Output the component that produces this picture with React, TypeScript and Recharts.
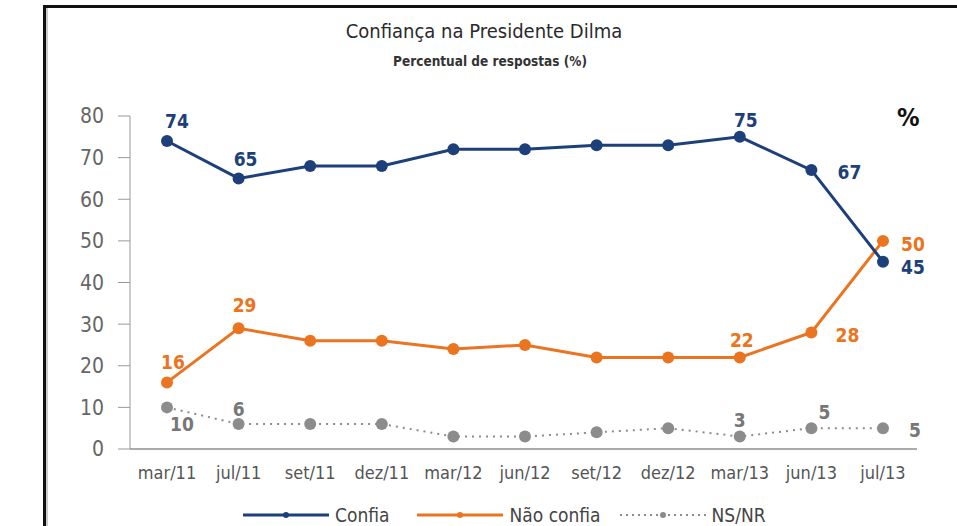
import { LineChart, Line, XAxis, YAxis } from 'recharts'

const months = ['mar/11', 'jul/11', 'set/11', 'dez/11', 'mar/12', 'jun/12', 'set/12', 'dez/12', 'mar/13', 'jun/13', 'jul/13']
const confia = [74, 65, 68, 68, 72, 72, 73, 73, 75, 67, 45]
const naoConfia = [16, 29, 26, 26, 24, 25, 22, 22, 22, 28, 50]
const nsnr = [10, 6, 6, 6, 3, 3, 4, 5, 3, 5, 5]
const yTicks = [0, 10, 20, 30, 40, 50, 60, 70, 80]

const BLUE = '#1d3f7a'
const ORANGE = '#ea7420'
const GRAY = '#8c8c8c'
const FONT = "'DejaVu Sans Condensed', 'DejaVu Sans', Arial, sans-serif"

// which points get a value label, and where (offset from the dot)
const confiaLabels: Record<number, [number, number]> = { 0: [10, -20], 1: [7, -19], 8: [6, -17], 9: [38, 2], 10: [30, 5] }
const naoLabels: Record<number, [number, number]> = { 0: [6, -20], 1: [6, -23], 8: [2, -17], 9: [36, 3], 10: [30, 3] }
const nsLabels: Record<number, [number, number]> = { 0: [15, 17], 1: [0, -15], 8: [0, -17], 9: [13, -16], 10: [32, 2] }

const data = months.map((m, i) => ({ month: m, confia: confia[i], nao: naoConfia[i], ns: nsnr[i] }))

function makeLabel(pos: Record<number, [number, number]>, color: string) {
  return (props: any) => {
    const { x, y, value, index } = props
    const p = pos[index]
    if (!p) return null
    return (
      <text key={index} x={x + p[0]} y={y + p[1]} fill={color} fontSize={19} fontWeight={700}
        fontFamily={FONT} textAnchor="middle" dominantBaseline="central">
        {value}
      </text>
    )
  }
}

function LegendIcon({ color, dashed }: { color: string; dashed?: boolean }) {
  return (
    <svg width={86} height={10} style={{ marginRight: 6 }}>
      <line x1={0} y1={5} x2={86} y2={5} stroke={color} strokeWidth={dashed ? 2 : 3} strokeDasharray={dashed ? '2 4' : undefined} />
      <circle cx={43} cy={5} r={3} fill={color} />
    </svg>
  )
}

export default function App() {
  return (
    <div style={{ position: 'absolute', left: 0, top: 0, width: 957, height: 526, overflow: 'hidden', background: '#fff', fontFamily: FONT }}>
      <div style={{ position: 'absolute', left: 43, top: 5, width: 1000, height: 600, border: '3px solid #111' }} />
      <div style={{ position: 'absolute', left: 46, top: 8, width: 2, height: 600, background: '#ccc' }} />
      <div style={{ position: 'absolute', left: 0, width: 968, top: 19, textAlign: 'center', fontSize: 20, color: '#2a2a2a' }}>
        Confiança na Presidente Dilma
      </div>
      <div style={{ position: 'absolute', left: 0, width: 980, top: 53, textAlign: 'center', fontSize: 13.5, fontWeight: 700, color: '#333' }}>
        Percentual de respostas (%)
      </div>
      <div style={{ position: 'absolute', left: 897, top: 103, fontSize: 25, fontWeight: 700, color: '#111' }}>%</div>
      <LineChart width={957} height={526} data={data} margin={{ top: 116, right: 40, bottom: 47, left: 20 }} style={{ position: 'absolute', left: 0, top: 0 }}>
        <XAxis dataKey="month" padding={{ left: 37, right: 34 }} tickLine={false} tickSize={0} tickMargin={17}
          axisLine={{ stroke: '#aaa', strokeWidth: 2 }} tick={{ fill: '#555', fontSize: 18, fontFamily: FONT }} interval={0} />
        <YAxis domain={[0, 80]} ticks={yTicks} width={110} tickSize={12} tickMargin={14}
          axisLine={{ stroke: '#999' }} tickLine={{ stroke: '#999' }} tick={{ fill: '#666', fontSize: 21, fontFamily: FONT }} />
        <Line dataKey="ns" stroke={GRAY} strokeWidth={2} strokeDasharray="2 5" isAnimationActive={false}
          dot={{ r: 6, fill: GRAY, stroke: GRAY, strokeWidth: 0 }} label={makeLabel(nsLabels, '#777')} />
        <Line dataKey="nao" stroke={ORANGE} strokeWidth={3} isAnimationActive={false}
          dot={{ r: 6, fill: ORANGE, stroke: ORANGE, strokeWidth: 0 }} label={makeLabel(naoLabels, ORANGE)} />
        <Line dataKey="confia" stroke={BLUE} strokeWidth={3} isAnimationActive={false}
          dot={{ r: 6, fill: BLUE, stroke: BLUE, strokeWidth: 0 }} label={makeLabel(confiaLabels, BLUE)} />
      </LineChart>
      <div style={{ position: 'absolute', left: 243, top: 504, display: 'flex', alignItems: 'center', fontSize: 19, color: '#444' }}>
        <LegendIcon color={BLUE} />
        <span style={{ marginRight: 28 }}>Confia</span>
        <LegendIcon color={ORANGE} />
        <span style={{ marginRight: 19 }}>Não confia</span>
        <LegendIcon color={GRAY} dashed />
        <span>NS/NR</span>
      </div>
    </div>
  )
}
